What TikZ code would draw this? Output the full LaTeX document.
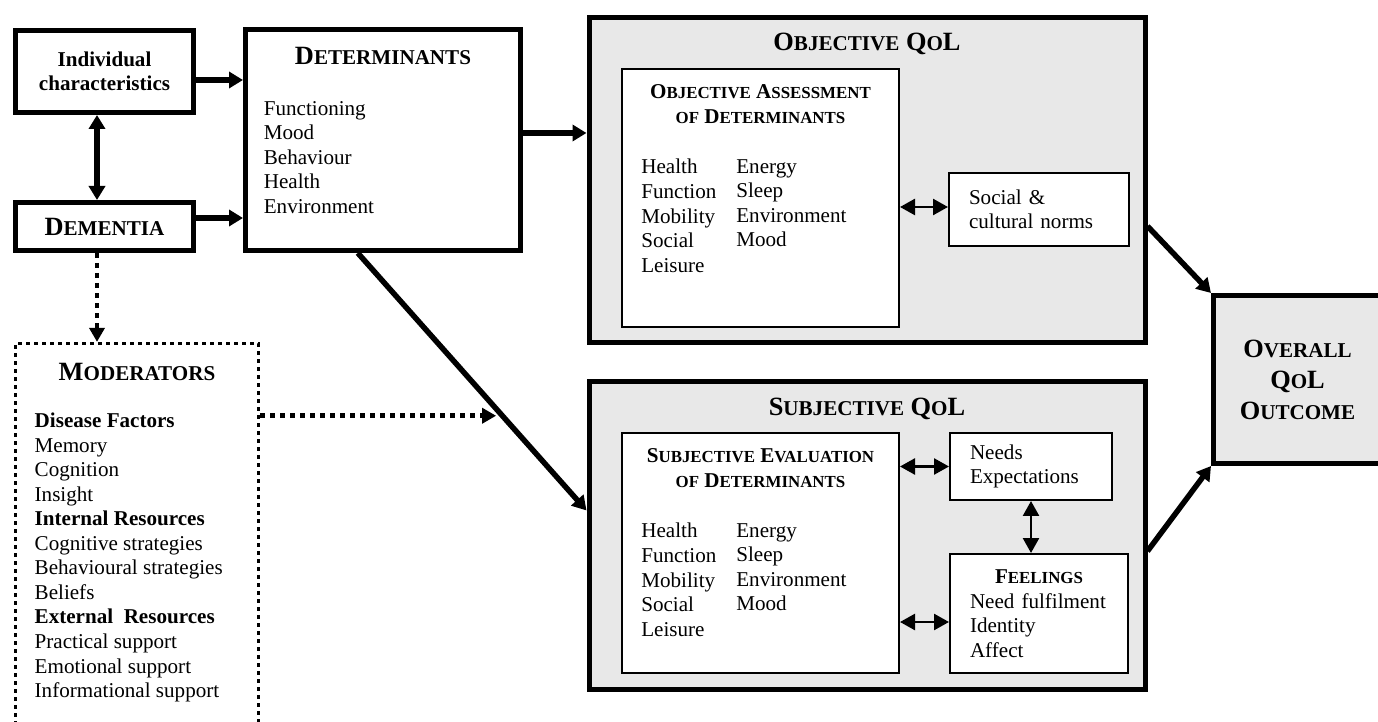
\documentclass[tikz,border=0pt]{standalone}
\usepackage{fontspec}
\setmainfont{Liberation Serif}
\usepackage{xcolor}
\usepackage{tikz}
\usetikzlibrary{positioning, calc, arrows.meta}

\definecolor{qolgrey}{RGB}{232,232,232}

% home-made small capitals (the font has none)
\makeatletter
\newcommand{\sck}[1]{{\fontsize{\strip@pt\dimexpr\f@size pt*4/5\relax}{\f@baselineskip}\selectfont\MakeUppercase{#1}}}
\newcommand{\scw}[1]{\scw@#1\@nil}
\def\scw@#1#2\@nil{#1\sck{#2}}
\makeatother

\begin{document}
\begin{tikzpicture}[
		thickbox/.style={draw, line width=0.1cm, inner sep=0pt, align=center},
		qolbox/.style={thickbox, fill=qolgrey},
		thinbox/.style={draw, line width=0.04cm, fill=white, inner sep=0pt},
		modbox/.style={draw, line width=0.065cm, dash pattern=on 0.08cm off 0.08cm},
		headfont/.style={inner sep=0pt, align=center, font=\fontsize{15}{17.6}\selectfont\bfseries},
		subhead/.style={inner sep=0pt, align=center, font=\fontsize{12}{14.2}\selectfont\bfseries},
		listtext/.style={inner sep=0pt, align=left, font=\fontsize{12}{13.95}\selectfont},
		mainarrow/.style={line width=0.11cm, -{Triangle[length=0.28cm,width=0.32cm]}},
		mainboth/.style={line width=0.11cm, {Triangle[length=0.28cm,width=0.32cm]}-{Triangle[length=0.28cm,width=0.32cm]}},
		thinboth/.style={line width=0.05cm, {Triangle[length=0.3cm,width=0.32cm]}-{Triangle[length=0.3cm,width=0.32cm]}},
		dotarrow/.style={line width=0.09cm, dash pattern=on 0.1cm off 0.1cm, -{Triangle[length=0.28cm,width=0.3cm]}}]

	\useasboundingbox (0,0) rectangle (27.56,-14.44);

	% Left column
	\node[thickbox, minimum width=3.56cm, minimum height=1.64cm, font=\fontsize{12}{13.95}\selectfont\bfseries] (indiv) at (2.09,-1.43) {Individual\\characteristics};
	\node[thickbox, headfont, minimum width=3.56cm, minimum height=0.96cm] (dementia) at (2.09,-4.53) {\scw{Dementia}};

	\node[modbox, minimum width=4.86cm, minimum height=8.33cm] (moder) at (2.74,-11.035) {};
	\node[headfont, below=0.42cm of moder.north] (modtitle) {\scw{Moderators}};
	\node[listtext, below right=1.42cm and 0.41cm of moder.north west] (modlist) {\textbf{Disease Factors}\\Memory\\Cognition\\Insight\\\textbf{Internal Resources}\\Cognitive strategies\\Behavioural strategies\\Beliefs\\\textbf{External\ \ Resources}\\Practical support\\Emotional support\\Informational support};

	% Determinants
	\node[thickbox, minimum width=5.5cm, minimum height=4.42cm] (determ) at (7.66,-2.80) {};
	\node[headfont, below=0.4cm of determ.north] (determtitle) {\scw{Determinants}};
	\node[listtext, below right=1.48cm and 0.41cm of determ.north west] (determlist) {Functioning\\Mood\\Behaviour\\Health\\Environment};

	% Objective QoL
	\node[qolbox, minimum width=11.12cm, minimum height=6.5cm] (objqol) at (17.34,-3.6) {};
	\node[headfont, below=0.36cm of objqol.north] (objtitle) {\scw{Objective} Q\sck{o}L};
	\node[thinbox, minimum width=5.54cm, minimum height=5.16cm] (objass) at (15.21,-3.96) {};
	\node[subhead, below=0.33cm of objass.north] (objasstitle) {\scw{Objective} \scw{Assessment}\\\sck{of} \scw{Determinants}};
	\node[listtext, below right=1.82cm and 0.4cm of objass.north west] (objleft) {Health\\Function\\Mobility\\Social\\Leisure};
	\node[listtext, anchor=north west] (objright) at ([xshift=1.9cm]objleft.north west) {Energy\\Sleep\\Environment\\Mood};
	\node[thinbox, listtext, text width=2.8cm, inner xsep=0.4cm, minimum height=1.46cm] (norms) at (20.78,-4.19) {Social \&\\cultural norms};

	% Subjective QoL
	\node[qolbox, minimum width=11.12cm, minimum height=6.16cm] (subqol) at (17.34,-10.71) {};
	\node[headfont, below=0.38cm of subqol.north] (subtitle) {\scw{Subjective} Q\sck{o}L};
	\node[thinbox, minimum width=5.54cm, minimum height=4.8cm] (subeval) at (15.21,-11.06) {};
	\node[subhead, below=0.33cm of subeval.north] (subevaltitle) {\scw{Subjective} \scw{Evaluation}\\\sck{of} \scw{Determinants}};
	\node[listtext, below right=1.82cm and 0.4cm of subeval.north west] (subleft) {Health\\Function\\Mobility\\Social\\Leisure};
	\node[listtext, anchor=north west] (subright) at ([xshift=1.9cm]subleft.north west) {Energy\\Sleep\\Environment\\Mood};
	\node[thinbox, listtext, text width=2.44cm, inner xsep=0.4cm, minimum height=1.34cm] (needs) at (20.62,-9.33) {Needs\\Expectations};
	\node[thinbox, listtext, text width=2.76cm, inner xsep=0.4cm, minimum height=2.38cm] (feel) at (20.78,-12.27) {\makebox[\hsize]{\bfseries\scw{Feelings}}\\Need fulfilment\\Identity\\Affect};

	% Outcome
	\node[qolbox, headfont, minimum width=3.36cm, minimum height=3.36cm] (overall) at (25.95,-7.59) {\scw{Overall}\\Q\sck{o}L\\\scw{Outcome}};

	% Arrows
	\coordinate (a1) at ([yshift=-0.17cm]indiv.east);
	\coordinate (a2) at ([yshift=0.17cm]dementia.east);
	\coordinate (a3) at ([yshift=0.14cm]determ.east);
	\draw[mainarrow] (a1) -- (a1 -| determ.west);
	\draw[mainarrow] (a2) -- (a2 -| determ.west);
	\draw[mainarrow] (a3) -- (a3 -| objqol.west);

	\coordinate (a4) at ([xshift=-0.15cm]indiv.south);
	\draw[mainboth] (a4) -- (a4 |- dementia.north);

	\coordinate (a5) at ([xshift=-0.15cm]dementia.south);
	\draw[dotarrow] (a5) -- (a5 |- moder.north);
	\coordinate (m1) at ([yshift=2.72cm]moder.east);
	\coordinate (m2) at ([xshift=4.72cm]m1);
	\draw[dotarrow] (m1) -- (m2);

	\draw[mainarrow] ($(determ.south west)!0.41!(determ.south east)$) -- ($(subqol.north west)!0.42!(subqol.south west)$);
	\draw[mainarrow] ($(objqol.north east)!0.64!(objqol.south east)$) -- (overall.north west);
	\draw[mainarrow] ($(subqol.north east)!0.55!(subqol.south east)$) -- (overall.south west);

	\coordinate (b1) at ([yshift=-0.18cm]objass.east);
	\draw[thinboth] (b1) -- (b1 -| norms.west);
	\draw[thinboth] (needs.west -| subeval.east) -- (needs.west);
	\coordinate (b2) at ([yshift=-0.17cm]feel.west);
	\draw[thinboth] (b2 -| subeval.east) -- (b2);
	\draw[thinboth] (needs.south) -- (needs.south |- feel.north);
\end{tikzpicture}
\end{document}
